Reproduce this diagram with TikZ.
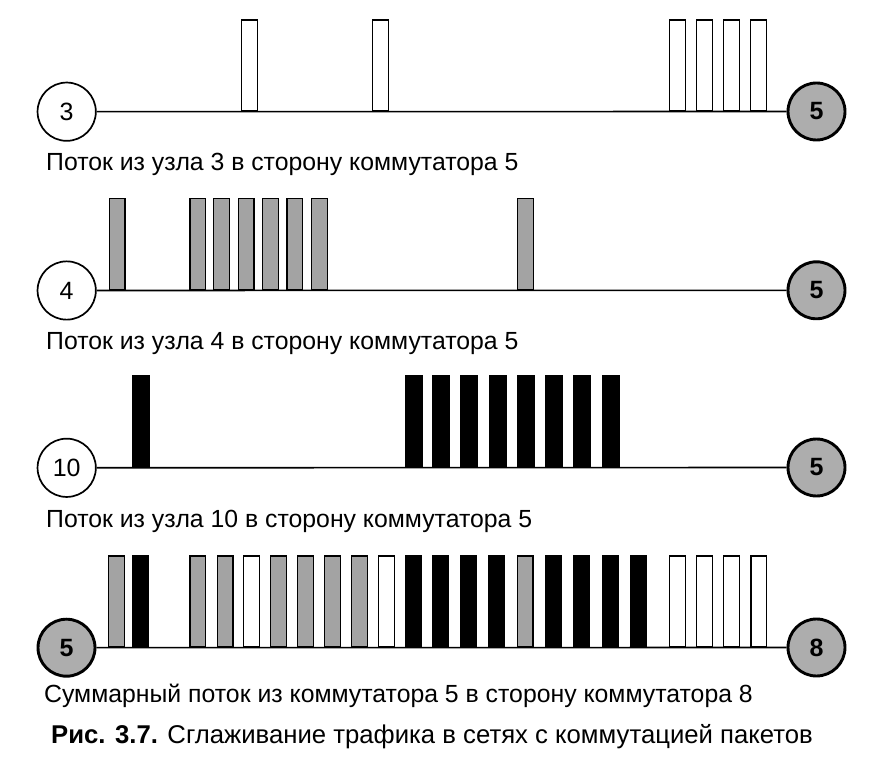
\documentclass[tikz,border=0pt]{standalone}
\usepackage{fontspec}
\setmainfont{Liberation Sans}
\definecolor{pgray}{gray}{0.64}
\definecolor{cgray}{gray}{0.68}
\begin{document}
\begin{tikzpicture}[x=1pt,y=-1pt,
  hostnode/.style={circle,draw,line width=1.7pt,fill=white,minimum size=58.3pt,inner sep=0pt,font=\fontsize{25}{25}\selectfont},
  swnode/.style={circle,draw,line width=2.9pt,fill=cgray,minimum size=57pt,inner sep=0pt,font=\bfseries\fontsize{25}{25}\selectfont},
  link/.style={line width=1.6pt},
  pkt/.style={draw,line width=1.3pt,inner sep=0pt,minimum width=15.8pt,minimum height=91pt,anchor=south west},
  pktb/.style={pkt,minimum width=16.8pt,fill=black},
  lbl/.style={anchor=base west,inner sep=0pt,font=\fontsize{24.8}{28}\selectfont},
  captext/.style={anchor=base west,inner sep=0pt,font=\fontsize{25.7}{29}\selectfont}]
\useasboundingbox (0,0) rectangle (871,783);
\fill[white] (0,0) rectangle (871,783);

% Row 1
\node[hostnode] (h3) at (66.7,111.7) {3};
\node[swnode] (s5a) at (816.5,111.5) {5};
\draw[link] (h3) -- (s5a);
\foreach \x [count=\i] in {241,372,669,696,723,750}
  \node[pkt,fill=white] (ra\i) at (\x,111.7) {};
\node[lbl] (la) at (46,170.5) {Поток из узла 3 в сторону коммутатора 5};

% Row 2
\node[hostnode] (h4) at (66.7,290.5) {4};
\node[swnode] (s5b) at (816.5,290.3) {5};
\draw[link] (h4) -- (s5b);
\foreach \x [count=\i] in {108.5,189.3,213,237.5,262,286.3,311,517}
  \node[pkt,fill=pgray] (rb\i) at (\x,290.3) {};
\node[lbl] (lb) at (46,349.5) {Поток из узла 4 в сторону коммутатора 5};

% Row 3
\node[hostnode] (h10) at (66.7,467.8) {10};
\node[swnode] (s5c) at (816.5,467.5) {5};
\draw[link] (h10) -- (s5c);
\foreach \x [count=\i] in {131.5,404.5,432,460,488.5,516.5,544.5,573,601.5}
  \node[pktb] (rc\i) at (\x,467.7) {};
\node[lbl] (lc) at (46,527.5) {Поток из узла 10 в сторону коммутатора 5};

% Row 4
\node[swnode] (s5d) at (66.5,647.7) {5};
\node[swnode] (s8) at (816.5,647.5) {8};
\draw[link] (s5d) -- (s8);
\foreach \x/\c [count=\i] in {108/pgray,131.5/black,189.3/pgray,216.5/pgray,243/white,269.7/pgray,297/pgray,323.7/pgray,351/pgray,378/white,404.5/black,432/black,460/black,488.3/black,516.5/pgray,544.5/black,573/black,601.5/black,629.7/black,668.7/white,696/white,723/white,750.3/white}
  \node[pkt,fill=\c] (rd\i) at (\x,647.7) {};
\node[lbl] (ld) at (44,702.5) {Суммарный поток из коммутатора 5 в сторону коммутатора 8};

% Caption
\node[captext] (capt) at (51,743) {\textbf{Рис. 3.7.} Сглаживание трафика в сетях с коммутацией пакетов};
\end{tikzpicture}
\end{document}
